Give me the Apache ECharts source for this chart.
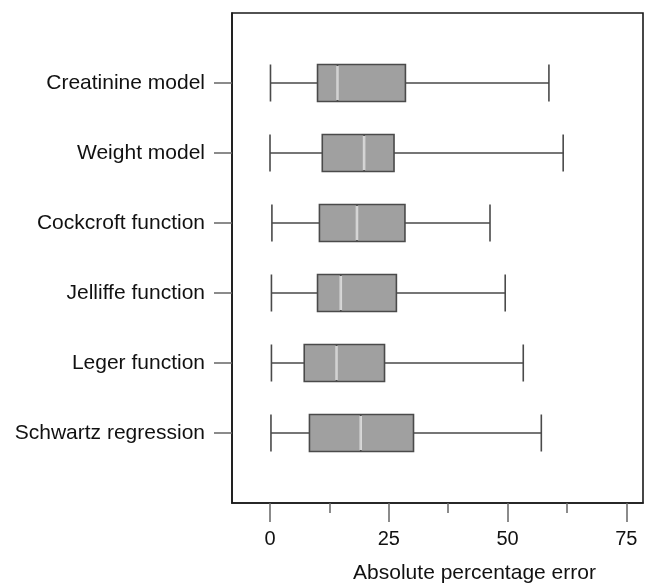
<!DOCTYPE html>
<html><head><meta charset="utf-8">
<script src="https://cdn.jsdelivr.net/npm/echarts@6/dist/echarts.min.js"></script>
<style>html,body{margin:0;padding:0;background:#fff}#c{width:648px;height:584px}</style>
</head><body><div id="c"></div>
<script>
const categories = ['Creatinine model','Weight model','Cockcroft function','Jelliffe function','Leger function','Schwartz regression'];
const minVals = [0.1, 0.0, 0.4, 0.3, 0.3, 0.2];
const q1Vals = [10.0, 11.0, 10.4, 10.0, 7.2, 8.3];
const medianVals = [14.2, 19.8, 18.3, 14.9, 14.0, 19.1];
const q3Vals = [28.5, 26.1, 28.4, 26.6, 24.1, 30.2];
const maxVals = [58.7, 61.7, 46.3, 49.5, 53.3, 57.1];
const majorTicks = [0, 25, 50, 75];
const minorTicks = [12.5, 37.5, 62.5];
const xAxisTitle = 'Absolute percentage error';

const FONT = 'Liberation Sans, Arial, Helvetica, sans-serif';
const positions = categories.map((c, i) => i + 1);
const boxData = categories.map((c, i) => [positions[i], minVals[i], q1Vals[i], medianVals[i], q3Vals[i], maxVals[i]]);
const medData = categories.map((c, i) => [medianVals[i], positions[i]]);

const chart = echarts.init(document.getElementById('c'), null, {renderer: 'canvas'});
chart.setOption({
  animation: false,
  backgroundColor: '#fff',
  grid: {left: 232, right: 5, top: 13, bottom: 81, show: true, borderColor: '#1a1a1a', borderWidth: 1.6, containLabel: false, outerBoundsMode: 'none'},
  xAxis: [{
    type: 'value', min: -8, max: 78.5, position: 'bottom',
    axisLine: {show: true, onZero: false, lineStyle: {color: '#1a1a1a', width: 1.6}},
    axisTick: {show: true, customValues: majorTicks, length: 19, lineStyle: {color: '#666', width: 1.5}},
    axisLabel: {show: true, customValues: majorTicks, fontSize: 20, color: '#111', margin: 26, fontFamily: FONT},
    splitLine: {show: false},
    name: xAxisTitle, nameLocation: 'middle', nameGap: 60,
    nameTextStyle: {fontSize: 21, color: '#111', fontFamily: FONT, padding: [0, 0, 0, 74]}
  }, {
    type: 'value', min: -8, max: 78.5, position: 'bottom', gridIndex: 0,
    axisLine: {show: false, onZero: false},
    axisTick: {show: true, customValues: minorTicks, length: 10, lineStyle: {color: '#666', width: 1.5}},
    axisLabel: {show: false},
    splitLine: {show: false}
  }],
  yAxis: {
    type: 'value', min: 0, max: 7, inverse: true, position: 'left',
    axisLine: {show: true, onZero: false, lineStyle: {color: '#1a1a1a', width: 1.6}},
    axisTick: {show: true, customValues: positions, length: 18, lineStyle: {color: '#666', width: 1.5}},
    axisLabel: {show: true, customValues: positions, formatter: v => categories[Math.round(v) - 1] || '', fontSize: 21, color: '#111', margin: 27, fontFamily: FONT},
    splitLine: {show: false}
  },
  series: [{
    type: 'boxplot', layout: 'vertical', xAxisIndex: 0, yAxisIndex: 0,
    boxWidth: [37, 37],
    itemStyle: {color: '#a0a0a0', borderColor: '#4a4a4a', borderWidth: 1.6},
    data: boxData
  }, {
    type: 'scatter', xAxisIndex: 0, yAxisIndex: 0, z: 5,
    symbol: 'rect', symbolSize: [2.5, 34],
    itemStyle: {color: '#f4f4f4'},
    data: medData
  }]
});
</script></body></html>
